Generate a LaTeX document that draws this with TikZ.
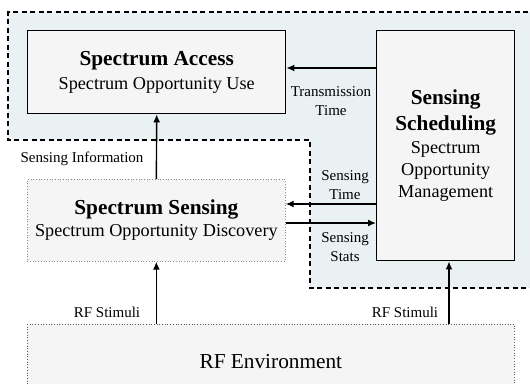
\documentclass[tikz,border=0pt]{standalone}
\usepackage{fontspec}
\setmainfont{Liberation Serif}
\usetikzlibrary{arrows.meta}
\definecolor{regionfill}{RGB}{233,241,243}
\definecolor{boxfill}{RGB}{245,245,245}
\definecolor{dotgray}{RGB}{140,140,140}
\tikzset{
  solidbox/.style={draw=black, line width=1.4pt, fill=boxfill, rectangle, anchor=north west, inner sep=0pt, align=center},
  dotbox/.style={draw=dotgray, line width=0.7pt, dotted, fill=boxfill, rectangle, anchor=north west, inner sep=0pt, align=center},
  arr/.style={line width=1.4pt, -{Latex[length=8pt,width=7pt]}},
  lbl/.style={font=\fontsize{15}{19}\selectfont, align=center, inner sep=0pt}
}
\newcommand{\ttl}[1]{{\fontsize{21.3}{23}\selectfont\bfseries #1}}
\begin{document}
\begin{tikzpicture}[x=1pt,y=-1pt]
\clip (0,0) rectangle (530,383);
\fill[white] (0,0) rectangle (530,383);
% dashed region
\fill[regionfill] (545,12) -- (8,12) -- (8,140) -- (310,140) -- (310,288) -- (545,288) -- cycle;
\draw[line width=1.1pt, dash pattern=on 5pt off 3.5pt] (545,12) -- (8,12) -- (8,140) -- (310,140) -- (310,288) -- (545,288);
% boxes
\node[solidbox, minimum width=258pt, minimum height=83pt, font=\fontsize{18.2}{23}\selectfont] (access) at (27,30)
  {\ttl{Spectrum Access}\\[0.5pt]Spectrum Opportunity Use};
\node[solidbox, minimum width=138pt, minimum height=230pt, font=\fontsize{18.2}{22}\selectfont] (sched) at (376,30)
  {\ttl{Sensing}\\[4pt]\ttl{Scheduling}\\[1pt]Spectrum\\Opportunity\\Management};
\node[dotbox, minimum width=258pt, minimum height=82pt, font=\fontsize{18.2}{23}\selectfont] (sensing) at (27,179)
  {\ttl{Spectrum Sensing}\\[-1pt]Spectrum Opportunity Discovery};
\node[dotbox, draw=black!65, minimum width=487pt, minimum height=74pt, font=\fontsize{21.3}{24}\selectfont] (rfenv) at (27,324)
  {RF Environment};
% connectors
\draw[arr] (sched.west |- 0,68) -- (access.east |- 0,68);
\draw[arr] (sensing.north) -- (access.south);
\draw[arr] (sched.west |- 0,204) -- (sensing.east |- 0,204);
\draw[arr] (sensing.east |- 0,223) -- (sched.west |- 0,223);
\draw[arr] (rfenv.north -| sensing.south) -- (sensing.south);
\draw[arr] (rfenv.north -| 449,0) -- (sched.south -| 449,0);
% labels
\node[lbl] (ltrans) at (331,101) {Transmission\\Time};
\node[lbl] (linfo) at (82,159) {Sensing Information};
\node[lbl] (lstime) at (345,185) {Sensing\\Time};
\node[lbl] (lstats) at (345,247) {Sensing\\Stats};
\node[lbl] (lrf1) at (107,312) {RF Stimuli};
\node[lbl] (lrf2) at (405,312) {RF Stimuli};
\end{tikzpicture}
\end{document}
